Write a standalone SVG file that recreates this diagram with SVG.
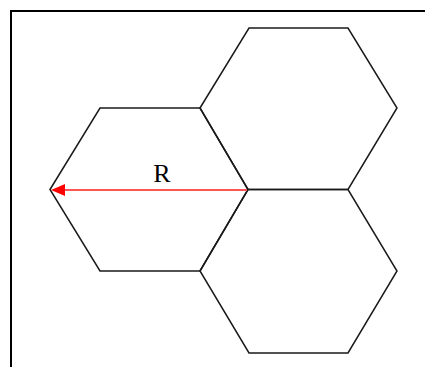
<svg xmlns="http://www.w3.org/2000/svg" width="425" height="367" viewBox="0 0 425 367">
<defs>
<style>
.hex{fill:none;stroke:#1a1a1a;stroke-width:1.5;stroke-linejoin:miter}
.frame{fill:none;stroke:#000;stroke-width:2}
.lbl{font-family:"Liberation Serif","Times New Roman",serif;font-size:26px;fill:#000;text-anchor:middle}
</style>
<marker id="ah" viewBox="0 0 14 12" refX="1" refY="6" markerWidth="14" markerHeight="12" markerUnits="userSpaceOnUse" orient="auto-start-reverse">
<path d="M0,0 L14,6 L0,12 z" fill="#ff0000"/>
</marker>
</defs>
<rect class="frame" x="11" y="11" width="430" height="370"/>
<g id="hex-left"><polygon class="hex" points="50,189.5 100,108 200,108 248,189.5 200,271 100,271"/></g>
<g id="hex-top"><polygon class="hex" points="200,108 249,28 348,28 397,108 348,189.5 248,189.5"/></g>
<g id="hex-bottom"><polygon class="hex" points="200,271 248,189.5 348,189.5 397,271 348,353 249,353"/></g>
<g id="connectors">
<line x1="247" y1="190" x2="64" y2="190" stroke="#ff5555" stroke-width="1.8" marker-end="url(#ah)"/>
</g>
<text class="lbl" x="162" y="182">R</text>
</svg>
